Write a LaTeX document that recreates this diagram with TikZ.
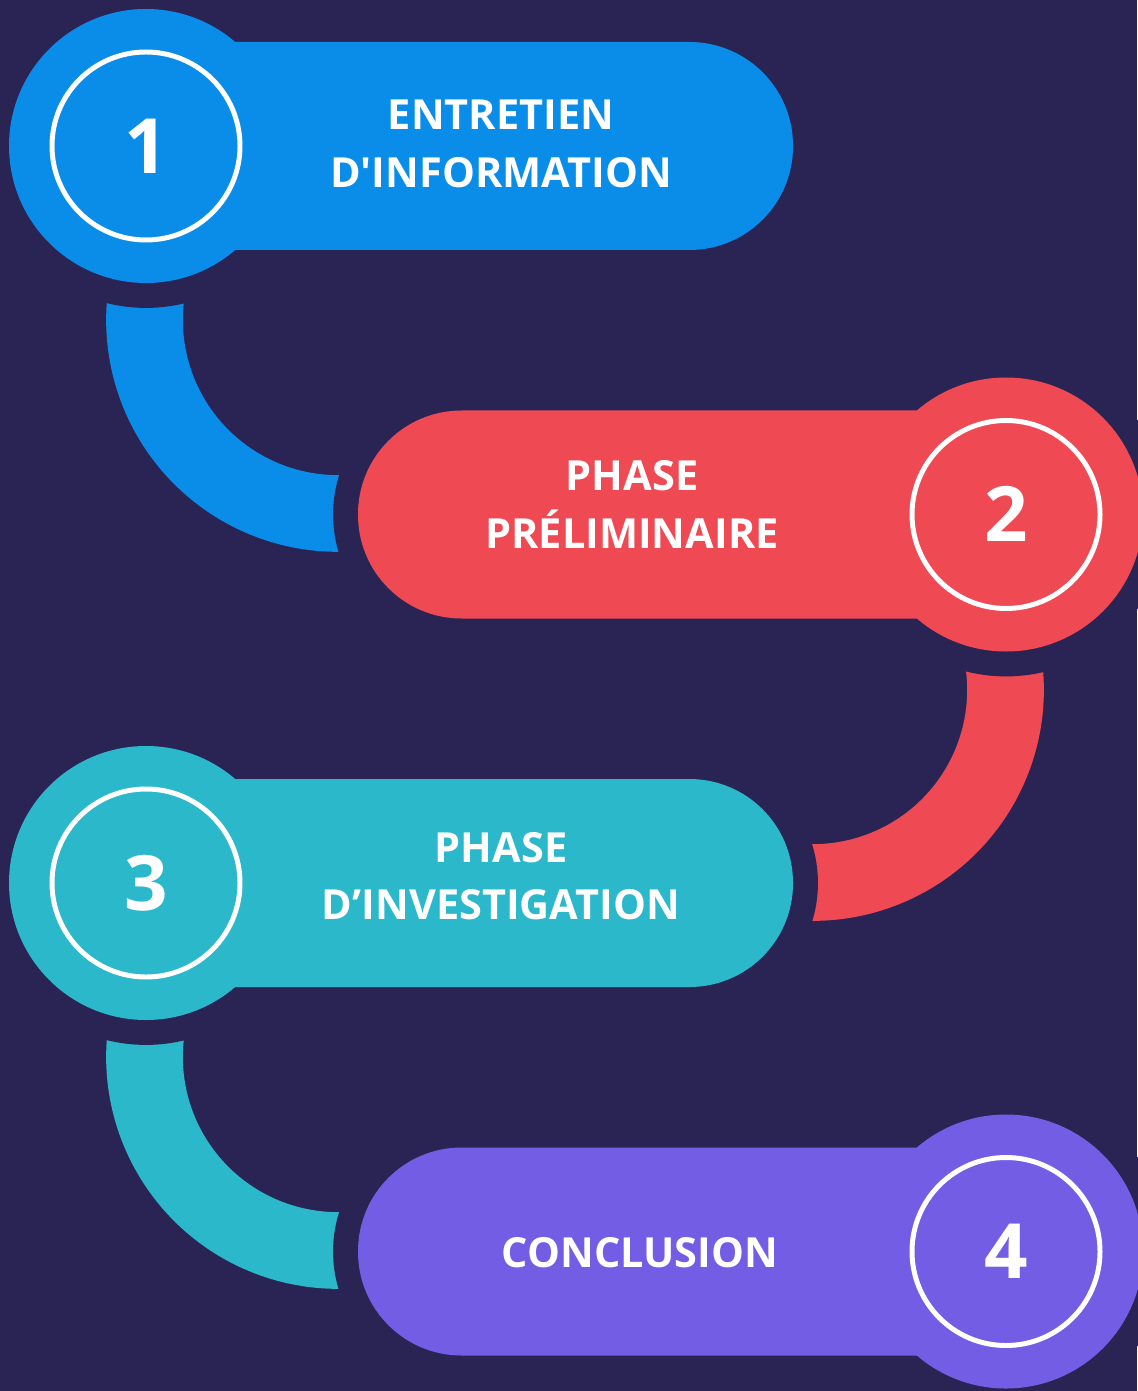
\documentclass[tikz,border=0pt]{standalone}
\usepackage{fontspec}
\newfontfamily\stepfont{Open Sans}
\usepackage{tikz}
\definecolor{bgnavy}{HTML}{2A2455}
\definecolor{stepblue}{HTML}{0A8DE9}
\definecolor{stepred}{HTML}{EF4A53}
\definecolor{stepteal}{HTML}{2AB8CA}
\definecolor{steppurple}{HTML}{735DE5}

\begin{document}
\begin{tikzpicture}[x=0.02cm,y=-0.02cm,
                    gap/.style={draw=bgnavy,line width=28.35pt},
                    band/.style={line width=43.65pt},
                    pill/.style={rounded corners=58.96pt},
                    ring/.style={draw=white,line width=2.83pt},
                    lbl/.style={text=white,anchor=base,inner sep=0pt,font=\stepfont\bfseries\fontsize{23.6}{29}\selectfont},
                    num/.style={text=white,anchor=base,inner sep=0pt,font=\stepfont\bfseries\fontsize{43.4}{52}\selectfont}]
                                    \useasboundingbox (0,0) rectangle (1137,1391);
                                    \fill[bgnavy] (0,0) rectangle (1137,1391);
                                    
                                    \coordinate (C1) at (146,146);
                                    \coordinate (C2) at (1006,514.5);
                                    \coordinate (C3) at (146,883);
                                    \coordinate (C4) at (1006,1251.5);
                                    \coordinate (A1) at (338,320);
                                    \coordinate (A2) at (813,690);
                                    \coordinate (A3) at (338,1057);
                                    
                                    % bands between the steps
                                    \draw[band,stepblue] (A1) ++(190:193.5) arc[start angle=190,end angle=80,radius=193.5];
                                    \draw[band,stepred] (A2) ++(-8:192.5) arc[start angle=-8,end angle=100,radius=192.5];
                                    \draw[band,stepteal] (A3) ++(190:193.5) arc[start angle=190,end angle=80,radius=193.5];
                                    
                                    % step 1
                                    \path[gap] (C1) circle[radius=137];
                                    \path[gap,pill] (30,42) rectangle (793,250);
                                    \fill[stepblue] (C1) circle[radius=137];
                                    \fill[stepblue,pill] (30,42) rectangle (793,250);
                                    \draw[ring] (C1) circle[radius=94];
                                    
                                    % step 2
                                    \path[gap] (C2) circle[radius=137];
                                    \path[gap,pill] (358,410.5) rectangle (1118,618.5);
                                    \fill[stepred] (C2) circle[radius=137];
                                    \fill[stepred,pill] (358,410.5) rectangle (1118,618.5);
                                    \draw[ring] (C2) circle[radius=94];
                                    
                                    % step 3
                                    \path[gap] (C3) circle[radius=137];
                                    \path[gap,pill] (30,779) rectangle (793,987);
                                    \fill[stepteal] (C3) circle[radius=137];
                                    \fill[stepteal,pill] (30,779) rectangle (793,987);
                                    \draw[ring] (C3) circle[radius=94];
                                    
                                    % step 4
                                    \path[gap] (C4) circle[radius=137];
                                    \path[gap,pill] (358,1147.5) rectangle (1118,1355.5);
                                    \fill[steppurple] (C4) circle[radius=137];
                                    \fill[steppurple,pill] (358,1147.5) rectangle (1118,1355.5);
                                    \draw[ring] (C4) circle[radius=94];
                                    
                                    \node[num] (n1) at (146,173.3) {1};
                                    \node[num] (n2) at (1006,541.8) {2};
                                    \node[num] (n3) at (146,910.3) {3};
                                    \node[num] (n4) at (1006,1278.8) {4};
                                    
                                    \node[lbl] (t1a) at (501,130) {ENTRETIEN};
                                    \node[lbl] (t1b) at (501,187.3) {D'INFORMATION};
                                    \node[lbl] (t2a) at (632,490) {PHASE};
                                    \node[lbl] (t2b) at (632,548) {PRÉLIMINAIRE};
                                    \node[lbl] (t3a) at (501,862.3) {PHASE};
                                    \node[lbl] (t3b) at (501,919) {D’INVESTIGATION};
                                    \node[lbl] (t4a) at (640,1267.3) {CONCLUSION};
                                    \end{tikzpicture}
\end{document}
